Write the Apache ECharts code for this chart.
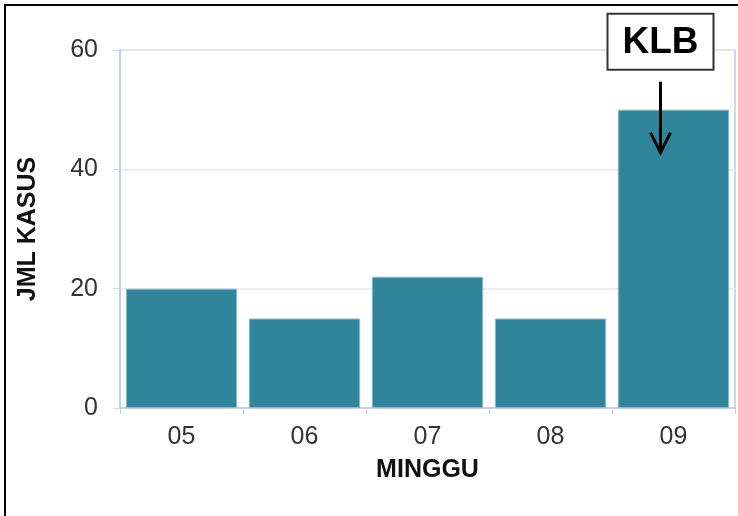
<!DOCTYPE html>
<html>
<head>
<meta charset="utf-8">
<style>
  html, body { margin: 0; padding: 0; background: #fff; }
  #chart { width: 738px; height: 516px; }
</style>
<script src="https://cdn.jsdelivr.net/npm/echarts@6/dist/echarts.min.js"></script>
</head>
<body>
<div id="chart"></div>
<script>
// Weekly case counts
const weeks = ['05', '06', '07', '08', '09'];
const cases = [20, 15, 22, 15, 50];
const yTicks = { min: 0, max: 60, interval: 20 };
const outbreakWeek = '09';
const outbreakLabel = 'KLB';

const FONT = '"Liberation Sans", Arial, sans-serif';
const chart = echarts.init(document.getElementById('chart'), null, { renderer: 'canvas' });

const option = {
  animation: false,
  backgroundColor: '#ffffff',
  grid: {
    left: 120, right: 3, top: 50, bottom: 108,
    show: true, borderColor: '#B9CCE4', borderWidth: 1.5, backgroundColor: 'transparent'
  },
  xAxis: {
    type: 'category',
    data: weeks,
    name: 'MINGGU',
    nameLocation: 'middle',
    nameGap: 50,
    nameTextStyle: { fontFamily: FONT, fontSize: 25, fontWeight: 'bold', color: '#111' },
    axisLine: { lineStyle: { color: '#B9CCE4', width: 1.5 } },
    axisTick: { show: true, length: 6, lineStyle: { color: '#C8CED8' } },
    axisLabel: { fontFamily: FONT, fontSize: 25, color: '#333', margin: 17 }
  },
  yAxis: {
    type: 'value',
    min: yTicks.min, max: yTicks.max, interval: yTicks.interval,
    name: 'JML KASUS',
    nameLocation: 'middle',
    nameGap: 79,
    nameTextStyle: { fontFamily: FONT, fontSize: 25, fontWeight: 'bold', color: '#111' },
    axisLine: { show: true, lineStyle: { color: '#B9CCE4', width: 1.5 } },
    axisTick: { show: true, length: 7, lineStyle: { color: '#D5D8DD' } },
    axisLabel: { fontFamily: FONT, fontSize: 25, color: '#333', margin: 22 },
    splitLine: { lineStyle: { color: '#E8E8E8', width: 1.5 } }
  },
  series: [{
    type: 'bar',
    data: cases,
    barCategoryGap: '9.5%',
    itemStyle: { color: '#31859B', borderColor: '#8FBBCA', borderWidth: 1 }
  }]
};
chart.setOption(option);

// Outer frame plus the outbreak callout anchored to the bar's top
const idx = weeks.indexOf(outbreakWeek);
const [bx, by] = chart.convertToPixel({ gridIndex: 0 }, [outbreakWeek, cases[idx]]);
const ax = bx - 13;
const boxW = 106, boxH = 56;
const boxTop = by - 96;
const arrowStart = by - 28, arrowTip = by + 43;

chart.setOption({
  graphic: [
    {
      type: 'rect', silent: true, z: 100,
      shape: { x: 5, y: 5, width: 900, height: 700 },
      style: { fill: 'none', stroke: '#000', lineWidth: 2 }
    },
    {
      type: 'rect', silent: true, z: 100,
      shape: { x: ax - boxW / 2, y: boxTop, width: boxW, height: boxH },
      style: { fill: '#fff', stroke: '#333', lineWidth: 2 }
    },
    {
      type: 'text', silent: true, z: 101,
      x: ax, y: boxTop + boxH / 2 + 1,
      style: {
        text: outbreakLabel, fontFamily: FONT, fontSize: 37, fontWeight: 'bold',
        fill: '#000', align: 'center', verticalAlign: 'middle'
      }
    },
    {
      type: 'line', silent: true, z: 100,
      shape: { x1: ax, y1: arrowStart, x2: ax, y2: arrowTip },
      style: { stroke: '#000', lineWidth: 3 }
    },
    {
      type: 'polyline', silent: true, z: 100,
      shape: { points: [[ax - 10, arrowTip - 20], [ax, arrowTip], [ax + 10, arrowTip - 20]] },
      style: { stroke: '#000', lineWidth: 3, fill: 'none', lineJoin: 'miter' }
    }
  ]
});
</script>
</body>
</html>
